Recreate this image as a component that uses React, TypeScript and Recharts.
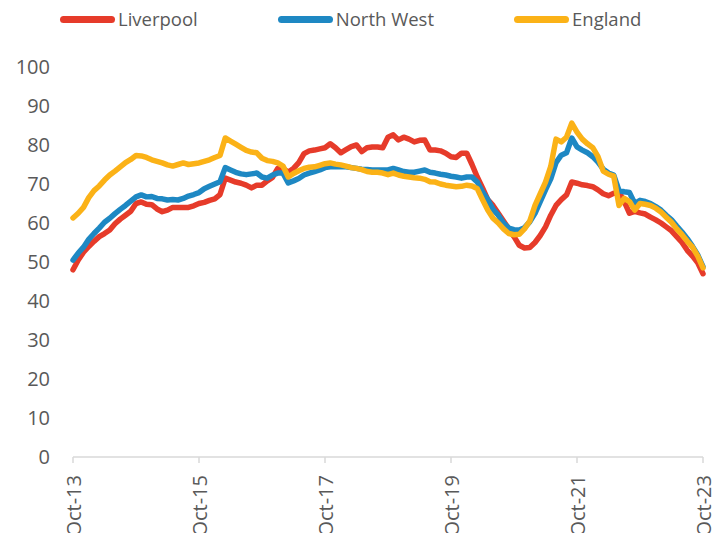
import { LineChart, Line, XAxis, YAxis } from "recharts";

const C = {
  red: "#E63B2A",
  blue: "#1E88C3",
  yellow: "#FBB217",
  text: "#595959",
  axis: "#D9D9D9",
};

const FONT = "'Open Sans', sans-serif";

// one x tick every 24 months, Oct-13 .. Oct-23
const tickLabels = ["Oct-13", "Oct-15", "Oct-17", "Oct-19", "Oct-21", "Oct-23"];
const yTicks = [0, 10, 20, 30, 40, 50, 60, 70, 80, 90, 100];

// monthly values, Oct-13 to Oct-23 (121 months)
const liverpool = [
  48, 50.5, 52.5, 54, 55.3, 56.5, 57.3, 58.2, 59.8, 61, 62, 63,
  65, 65.4, 64.8, 64.7, 63.6, 62.9, 63.3, 64, 64, 64, 64, 64.4,
  65, 65.3, 65.8, 66.2, 67.3, 71.5, 71, 70.5, 70.2, 69.7, 69, 69.7,
  69.7, 70.8, 71.7, 74, 74, 73, 74, 75.5, 77.8, 78.5, 78.7, 79,
  79.3, 80.3, 79.3, 78, 78.8, 79.6, 80, 78.3, 79.3, 79.5, 79.5, 79.3,
  82, 82.6, 81.3, 82, 81.5, 80.8, 81.2, 81.3, 78.7, 78.7, 78.5, 77.9,
  77, 76.8, 77.9, 77.9, 75, 71.8, 69, 66, 64.5, 62.5, 60.5, 58.5,
  56.5, 54.3, 53.6, 53.7, 55, 56.8, 59, 62, 64.5, 66, 67.2, 70.5,
  70.2, 69.8, 69.6, 69.3, 68.5, 67.5, 67, 67.6, 68, 65.5, 62.5, 63,
  62.6, 62.3, 61.5, 60.8, 60, 59, 58, 56.5, 55, 53, 51.5, 49.8,
  47,
];

const northWest = [
  50.5, 52.3, 53.8, 55.8, 57.3, 58.7, 60.2, 61.2, 62.4, 63.5, 64.5, 65.6,
  66.7, 67.2, 66.7, 66.8, 66.3, 66.2, 65.9, 66, 65.9, 66.3, 66.9, 67.3,
  67.8, 68.8, 69.4, 70, 70.6, 74.2, 73.6, 73, 72.6, 72.4, 72.6, 72.8,
  71.8, 71.5, 72.3, 72.8, 72.8, 70.3, 70.8, 71.4, 72.3, 72.8, 73.2, 73.6,
  74.2, 74.4, 74.4, 74.4, 74.4, 74.2, 74, 73.8, 73.7, 73.6, 73.6, 73.6,
  73.6, 74, 73.6, 73.2, 73, 73, 73.3, 73.6, 73, 72.8, 72.5, 72.3,
  72, 71.8, 71.5, 71.8, 71.8, 70.5, 68, 66, 63.5, 62, 60, 58.7,
  58.3, 58.2, 58.8, 60.3, 62.5, 65.5, 68.5, 71.3, 75.5, 77.4, 78, 81.8,
  79.5, 78.7, 78, 77, 75.6, 73.8, 72.8, 72.3, 68.3, 68, 67.8, 65,
  65.8, 65.5, 65, 64.2, 63.3, 62, 60.8, 59.2, 57.7, 56, 54, 51.8,
  48.8,
];

const england = [
  61.3, 62.5, 64, 66.5, 68.3, 69.5, 71, 72.3, 73.3, 74.4, 75.5, 76.3,
  77.3, 77.2, 76.8, 76.2, 75.8, 75.4, 74.9, 74.6, 75, 75.4, 75, 75.2,
  75.4, 75.8, 76.2, 76.8, 77.3, 81.8, 81, 80.2, 79.4, 78.6, 78.2, 78,
  76.6, 76, 75.8, 75.4, 74.6, 71.8, 72.7, 73.4, 74, 74.3, 74.4, 74.8,
  75.2, 75.4, 75.1, 74.9, 74.6, 74.2, 74, 73.7, 73.2, 73, 73, 72.8,
  72.4, 72.8, 72.3, 72, 71.8, 71.6, 71.5, 71.2, 70.6, 70.5, 70, 69.7,
  69.5, 69.3, 69.4, 69.7, 69.5, 68.8, 66, 63.3, 61.2, 60, 58.5, 57.3,
  57, 57.1, 58.5, 60.5, 64.5, 67.5, 70.5, 74.5, 81.5, 80.8, 82, 85.6,
  83.3, 81.5, 80.3, 79.3, 77, 73.3, 72.5, 72, 64.5, 66.3, 65.5, 63.3,
  65, 64.8, 64.5, 63.8, 62.8, 61.5, 60.2, 58.5, 57, 55.3, 53.8, 51.5,
  48.5,
];

const data = liverpool.map((v, i) => ({
  m: i,
  liverpool: v,
  northWest: northWest[i],
  england: england[i],
}));

const series = [
  { key: "liverpool", name: "Liverpool", color: C.red },
  { key: "northWest", name: "North West", color: C.blue },
  { key: "england", name: "England", color: C.yellow },
];

function XTick({ x, y, payload }: any) {
  const label = tickLabels[Math.round(payload.value / 24)];
  return (
    <text
      x={x}
      y={y}
      transform={`rotate(-90, ${x}, ${y})`}
      textAnchor="end"
      dominantBaseline="central"
      fill={C.text}
      fontSize={20}
      fontFamily={FONT}
    >
      {label}
    </text>
  );
}

function LegendRow() {
  return (
    <div
      style={{
        position: "absolute",
        top: 6,
        left: 60,
        display: "flex",
        gap: "80px",
        fontFamily: FONT,
        fontSize: "18.5px",
        color: C.text,
        lineHeight: "26px",
      }}
    >
      {series.map((s) => (
        <div key={s.key} style={{ display: "flex", alignItems: "center", gap: "3px" }}>
          <span
            style={{
              display: "inline-block",
              width: "55px",
              height: "7px",
              borderRadius: "4px",
              background: s.color,
            }}
          />
          <span>{s.name}</span>
        </div>
      ))}
    </div>
  );
}

export default function App() {
  return (
    <div
      style={{
        position: "absolute",
        left: 0,
        top: 0,
        width: 724,
        height: 533,
        background: "#fff",
        overflow: "hidden",
      }}
    >
      <LineChart
        width={724}
        height={533}
        data={data}
        margin={{ top: 67, right: 21, bottom: 0, left: 0 }}
      >
        <XAxis
          dataKey="m"
          type="number"
          domain={[0, 120]}
          ticks={[0, 24, 48, 72, 96, 120]}
          interval={0}
          height={76}
          axisLine={{ stroke: C.axis, strokeWidth: 1.5 }}
          tickLine={{ stroke: C.axis, strokeWidth: 1.5 }}
          tickSize={6}
          tickMargin={12}
          tick={<XTick />}
        />
        <YAxis
          domain={[0, 100]}
          ticks={yTicks}
          interval={0}
          width={73}
          axisLine={false}
          tickLine={false}
          tickSize={0}
          tickMargin={23}
          tick={{ fill: C.text, fontSize: 20, fontFamily: FONT }}
        />
        {series.map((s) => (
          <Line
            key={s.key}
            type="linear"
            dataKey={s.key}
            name={s.name}
            stroke={s.color}
            strokeWidth={5.5}
            strokeLinecap="round"
            strokeLinejoin="round"
            dot={false}
            isAnimationActive={false}
          />
        ))}
      </LineChart>
      <LegendRow />
    </div>
  );
}
